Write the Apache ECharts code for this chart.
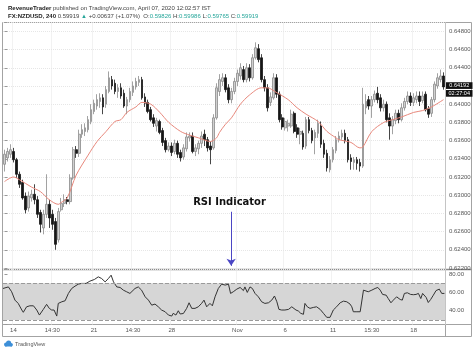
<!DOCTYPE html>
<html>
<head>
<meta charset="utf-8">
<script src="https://cdn.jsdelivr.net/npm/echarts@6/dist/echarts.min.js"></script>
<style>
  html, body { margin: 0; padding: 0; background: #fff; }
  #chart { width: 474px; height: 351px; }
</style>
</head>
<body>
<div id="chart"></div>
<script>
// NZDUSD 4h candles, prices in units of 0.0001 (6345 = 0.6345)
const opens = [
  6334, 6341, 6345, 6348, 6339, 6323, 6314, 6299, 6286, 6297,
  6301, 6295, 6281, 6264, 6279, 6290, 6279, 6271, 6251, 6284,
  6291, 6295, 6293, 6319, 6350, 6346, 6367, 6370, 6372, 6381,
  6392, 6398, 6403, 6407, 6400, 6414, 6427, 6423, 6414, 6418,
  6412, 6398, 6405, 6413, 6419, 6424, 6427, 6408, 6402, 6394,
  6385, 6376, 6381, 6371, 6360, 6350, 6354, 6348, 6357, 6347,
  6342, 6351, 6363, 6365, 6348, 6351, 6357, 6367, 6361, 6354,
  6352, 6385, 6414, 6425, 6429, 6418, 6405, 6414, 6425, 6431,
  6438, 6427, 6440, 6429, 6451, 6461, 6451, 6427, 6418, 6402,
  6407, 6429, 6411, 6385, 6374, 6376, 6376, 6390, 6374, 6367,
  6368, 6354, 6383, 6371, 6363, 6368, 6376, 6357, 6346, 6328,
  6339, 6349, 6361, 6364, 6368, 6361, 6341, 6336, 6339, 6336,
  6332, 6396, 6405, 6398, 6405, 6412, 6407, 6396, 6400, 6385,
  6376, 6382, 6390, 6383, 6396, 6403, 6409, 6402, 6405, 6409,
  6404, 6411, 6395, 6390, 6405, 6420, 6427, 6431
];
const closes = [
  6345, 6348, 6350, 6339, 6323, 6312, 6297, 6284, 6299, 6301,
  6295, 6279, 6268, 6279, 6290, 6275, 6268, 6246, 6282, 6291,
  6295, 6293, 6319, 6350, 6346, 6367, 6372, 6374, 6383, 6394,
  6401, 6405, 6407, 6397, 6416, 6429, 6420, 6414, 6418, 6409,
  6398, 6405, 6414, 6420, 6425, 6427, 6407, 6401, 6392, 6383,
  6379, 6382, 6369, 6358, 6350, 6354, 6347, 6357, 6345, 6341,
  6352, 6364, 6365, 6348, 6352, 6357, 6365, 6361, 6352, 6350,
  6385, 6418, 6427, 6429, 6416, 6405, 6414, 6425, 6434, 6440,
  6427, 6440, 6429, 6451, 6462, 6449, 6427, 6418, 6396, 6408,
  6429, 6411, 6383, 6375, 6381, 6379, 6389, 6370, 6367, 6370,
  6353, 6383, 6371, 6360, 6369, 6379, 6356, 6345, 6330, 6339,
  6350, 6361, 6365, 6368, 6360, 6339, 6337, 6339, 6335, 6332,
  6400, 6403, 6398, 6405, 6411, 6405, 6396, 6400, 6383, 6376,
  6383, 6390, 6383, 6396, 6403, 6409, 6402, 6407, 6409, 6403,
  6409, 6394, 6389, 6405, 6422, 6429, 6431, 6419
];
const highs = [
  6350, 6352, 6356, 6352, 6341, 6326, 6317, 6303, 6304, 6306,
  6312, 6299, 6284, 6284, 6323, 6295, 6284, 6275, 6286, 6297,
  6301, 6298, 6323, 6353, 6354, 6372, 6378, 6379, 6387, 6400,
  6405, 6411, 6412, 6411, 6420, 6436, 6431, 6427, 6422, 6423,
  6416, 6408, 6418, 6425, 6429, 6431, 6430, 6412, 6405, 6397,
  6389, 6385, 6383, 6374, 6363, 6358, 6358, 6361, 6360, 6350,
  6356, 6369, 6369, 6369, 6356, 6360, 6370, 6372, 6364, 6359,
  6389, 6423, 6433, 6434, 6433, 6422, 6418, 6429, 6438, 6445,
  6442, 6445, 6444, 6455, 6468, 6466, 6455, 6431, 6422, 6413,
  6434, 6433, 6414, 6389, 6385, 6383, 6394, 6392, 6378, 6374,
  6371, 6386, 6386, 6374, 6372, 6383, 6381, 6361, 6350, 6343,
  6353, 6365, 6370, 6372, 6372, 6364, 6345, 6342, 6342, 6340,
  6418, 6411, 6409, 6409, 6415, 6419, 6411, 6405, 6403, 6390,
  6387, 6394, 6394, 6401, 6407, 6414, 6413, 6412, 6414, 6414,
  6414, 6414, 6398, 6408, 6425, 6434, 6438, 6435
];
const lows = [
  6326, 6337, 6341, 6336, 6319, 6308, 6295, 6280, 6282, 6293,
  6290, 6275, 6259, 6257, 6275, 6264, 6262, 6240, 6248, 6282,
  6287, 6290, 6290, 6317, 6341, 6342, 6363, 6365, 6369, 6378,
  6389, 6394, 6396, 6389, 6396, 6412, 6416, 6411, 6407, 6406,
  6396, 6389, 6402, 6409, 6416, 6420, 6405, 6397, 6390, 6381,
  6375, 6370, 6367, 6354, 6347, 6348, 6343, 6345, 6341, 6337,
  6339, 6348, 6359, 6346, 6343, 6345, 6352, 6354, 6348, 6334,
  6350, 6383, 6409, 6420, 6413, 6401, 6401, 6411, 6420, 6427,
  6424, 6424, 6425, 6427, 6449, 6446, 6424, 6414, 6392, 6398,
  6405, 6407, 6380, 6372, 6371, 6370, 6374, 6368, 6363, 6356,
  6350, 6351, 6368, 6357, 6345, 6363, 6352, 6341, 6326, 6325,
  6336, 6346, 6358, 6361, 6357, 6336, 6328, 6328, 6328, 6326,
  6330, 6389, 6394, 6385, 6402, 6401, 6392, 6392, 6380, 6361,
  6367, 6378, 6379, 6381, 6393, 6400, 6398, 6398, 6401, 6398,
  6401, 6392, 6385, 6386, 6402, 6417, 6424, 6416
];

// bottom axis labels: bar index -> text
const tickBars = [3, 16, 30, 43, 56, 78, 94, 110, 123, 137];
const tickLabels = ['14', '14:30', '21', '14:30', '28', 'Nov', '6', '11', '15:30', '18'];

// red moving average (bar index, price x 0.0001)
const maBars = [0, 3, 5, 9, 12, 15, 18, 19, 21, 24, 28, 31, 34, 37, 39, 41, 44, 46, 49, 52,
  55, 59, 62, 65, 69, 71, 72, 74, 76, 79, 82, 86, 88, 91, 95, 98, 101, 105, 108, 111,
  112, 116, 119, 120, 123, 127, 130, 133, 137, 140, 143, 147];
const maVals = [6315, 6320, 6317, 6309, 6304, 6295, 6290, 6292, 6297, 6322, 6344, 6359, 6370, 6381, 6383, 6391, 6397, 6402, 6400, 6391,
  6380, 6370, 6366, 6363, 6359, 6363, 6369, 6378, 6385, 6400, 6410, 6418, 6418, 6413, 6405, 6396, 6389, 6381, 6370, 6363,
  6361, 6358, 6352, 6353, 6370, 6380, 6383, 6386, 6391, 6393, 6397, 6405];

// RSI line (bar position, value)
const rsiBars = [
  -0.5, 1.3, 2.4, 3.5, 4.6, 5.8, 6.3, 7.4, 8.5, 9.7,
  10.8, 11.7, 13.0, 14.1, 15.0, 15.8, 16.6, 17.5, 18.0, 19.2,
  20.3, 21.4, 22.5, 23.6, 24.7, 25.8, 27.3, 28.6, 30.1, 31.4,
  32.5, 33.7, 34.8, 35.7, 36.5, 37.6, 38.7, 39.8, 40.9, 42.0,
  42.6, 43.7, 44.8, 45.9, 47.1, 48.2, 49.3, 50.4, 51.5, 52.6,
  53.8, 54.9, 56.0, 56.5, 57.4, 58.2, 58.8, 59.9, 61.0, 61.8,
  62.7, 63.8, 64.9, 66.0, 66.8, 67.7, 68.8, 69.6, 70.5, 71.6,
  72.7, 73.9, 75.0, 75.7, 76.6, 77.8, 78.9, 80.0, 80.5, 81.3,
  82.2, 83.0, 83.9, 85.0, 86.1, 87.2, 88.4, 89.5, 90.4, 91.2,
  91.9, 92.8, 93.9, 95.1, 96.2, 96.7, 97.6, 98.4, 99.2, 100.1,
  100.6, 101.4, 102.3, 103.4, 104.5, 105.7, 106.8, 107.9, 109.0, 110.1,
  111.2, 112.4, 113.5, 114.6, 115.7, 116.3, 116.8, 118.0, 119.1, 119.6,
  120.2, 120.7, 121.8, 123.0, 124.1, 125.0, 125.8, 126.6, 127.8, 128.5,
  129.4, 130.2, 131.3, 132.5, 133.2, 133.9, 134.9, 136.0, 136.9, 137.8,
  138.6, 139.4, 140.0, 141.2, 141.9, 142.7, 143.6, 144.5, 145.6, 146.4,
  147.3
];
const rsiVals = [
  64.3, 66, 60.7, 51.6, 48, 40.8, 38.3, 44.3, 45.4, 45.4,
  40.8, 35.3, 41.5, 47, 42.6, 40.8, 40.8, 34.2, 48, 49.8,
  50.9, 58.9, 64.3, 66.8, 69, 69.8, 69.8, 72.3, 74.1, 77,
  75.2, 71.5, 75.2, 78.8, 71.5, 66, 65.4, 62.5, 60.7, 58.9,
  60.5, 64.3, 66, 62.5, 55.2, 51.6, 46.1, 47.3, 44.3, 40.8,
  38.9, 35.3, 34.2, 37.2, 35.3, 40, 36.5, 37, 42.6, 48.7,
  42.6, 42.6, 44.3, 48, 51.6, 44.3, 48, 45.4, 55.2, 64.3,
  69, 68, 69, 58.9, 60.7, 63.6, 65.4, 62, 66, 60,
  66, 64.3, 58.9, 55.2, 49.8, 48, 48.7, 51.6, 56.1, 49.8,
  41.5, 40.8, 40.8, 41.5, 44.3, 44.8, 40.8, 39.7, 37.2, 36.1,
  48, 44.3, 42.6, 43.6, 44.3, 41.5, 37.2, 32.8, 32.8, 40.8,
  44.3, 48.7, 50.5, 49.8, 47.3, 44.3, 38.9, 38.9, 38.9, 37.8,
  62.5, 63.3, 60.7, 62.5, 64.3, 65.4, 62.5, 57.8, 57, 53.3,
  48.7, 51.6, 55.2, 52.3, 51.6, 58.9, 59.6, 57.8, 57.5, 57.8,
  58.9, 53.3, 58.9, 54.5, 49, 52.3, 57, 62, 63.6, 58.9,
  58.9
];

const lastPrice = 0.64192;
const lastTime = '02:27:04';
const rsiBand = [30, 70];

const N = opens.length;
const categories = opens.map((_, i) => {
  const k = tickBars.indexOf(i);
  return k < 0 ? '' : tickLabels[k];
});
const candles = opens.map((o, i) => [o, closes[i], lows[i], highs[i]].map(v => v / 10000));
const maData = maBars.map((b, i) => [b, maVals[i] / 10000]);
const rsiData = rsiBars.map((b, i) => [b, rsiVals[i]]);

const font = '"Liberation Sans", Arial, sans-serif';
const gridColor = '#e6e6e6';
const frameColor = '#a3a3a3';
const isTick = (i) => categories[i] !== '';

const chart = echarts.init(document.getElementById('chart'));

// frame lines and the TradingView logo
const graphics = [
  { type: 'rect', shape: { x: 2.5, y: 22.5, width: 469, height: 314 }, style: { fill: 'none', stroke: frameColor, lineWidth: 1 } },
  { type: 'line', shape: { x1: 2.5, y1: 269.5, x2: 471.5, y2: 269.5 }, style: { stroke: '#8c8c8c', lineWidth: 1.5 } },
  { type: 'line', shape: { x1: 2.5, y1: 324.5, x2: 471.5, y2: 324.5 }, style: { stroke: frameColor, lineWidth: 1 } },
  { type: 'line', shape: { x1: 445.5, y1: 22.5, x2: 445.5, y2: 336.5 }, style: { stroke: frameColor, lineWidth: 1 } },
  { type: 'circle', shape: { cx: 6, cy: 344.5, r: 2 }, style: { fill: '#3d8fd8' } },
  { type: 'circle', shape: { cx: 8.6, cy: 343, r: 2.6 }, style: { fill: '#3d8fd8' } },
  { type: 'circle', shape: { cx: 11.2, cy: 344.8, r: 1.7 }, style: { fill: '#3d8fd8' } },
  { type: 'rect', shape: { x: 5, y: 344.5, width: 7, height: 2 }, style: { fill: '#3d8fd8' } },
  {
    type: 'text', x: 15, y: 344,
    style: { text: 'TradingView', fontSize: 5.5, fill: '#555', fontFamily: font, verticalAlign: 'middle' }
  }
];

const option = {
  animation: false,
  backgroundColor: '#fff',
  title: [
    {
      left: 3, top: 0,
      text: '{b|RevenueTrader} published on TradingView.com, April 07, 2020 12:02:57 IST',
      textStyle: {
        fontSize: 6, fontWeight: 'normal', color: '#444', fontFamily: font,
        rich: { b: { fontSize: 6, fontWeight: 'bold', color: '#222', fontFamily: font } }
      }
    },
    {
      left: 3, top: 8,
      text: '{b|FX:NZDUSD, 240} 0.59919 {g|\u25b2} +0.00637 (+1.07%)  O:{g|0.59826} H:{g|0.59986} L:{g|0.59765} C:{g|0.59919}',
      textStyle: {
        fontSize: 6, fontWeight: 'normal', color: '#444', fontFamily: font,
        rich: {
          b: { fontSize: 6, fontWeight: 'bold', color: '#222', fontFamily: font },
          g: { fontSize: 6, color: '#26a69a', fontFamily: font }
        }
      }
    }
  ],
  grid: [
    { left: 3, top: 22.5, width: 442, height: 247 },
    { left: 3, top: 269.5, width: 442, height: 55 }
  ],
  xAxis: [
    {
      type: 'category', gridIndex: 0, data: categories, boundaryGap: true,
      axisLine: { show: false }, axisTick: { show: false }, axisLabel: { show: false },
      splitLine: { show: true, interval: isTick, lineStyle: { color: gridColor, type: 'dotted' } }
    },
    { type: 'value', gridIndex: 0, min: -0.5, max: N - 0.5, show: false },
    {
      type: 'category', gridIndex: 1, data: categories, boundaryGap: true,
      axisLine: { show: false }, axisTick: { show: false },
      axisLabel: { interval: 0, margin: 3, fontSize: 6, color: '#555', fontFamily: font },
      splitLine: { show: true, interval: isTick, lineStyle: { color: gridColor, type: 'dotted' } }
    },
    { type: 'value', gridIndex: 1, min: -0.5, max: N - 0.5, show: false }
  ],
  yAxis: [
    {
      type: 'value', gridIndex: 0, position: 'right',
      min: 0.621835, max: 0.648978, splitNumber: 13,
      axisLine: { show: false },
      axisTick: { show: true, length: 3, lineStyle: { color: '#999' } },
      axisLabel: {
        margin: 4, fontSize: 6, color: '#555', fontFamily: font,
        formatter: v => Math.abs(v * 500 - Math.round(v * 500)) < 1e-6 ? v.toFixed(5) : ''
      },
      splitLine: { show: true, lineStyle: { color: gridColor, type: 'dotted' } }
    },
    {
      type: 'value', gridIndex: 1, position: 'right',
      min: 25, max: 85, splitNumber: 3,
      axisLine: { show: false },
      axisTick: { show: true, length: 3, lineStyle: { color: '#999' } },
      axisLabel: {
        margin: 4, fontSize: 6, color: '#555', fontFamily: font,
        formatter: v => v % 20 === 0 ? v.toFixed(2) : ''
      },
      splitLine: { show: false }
    }
  ],
  series: [
    {
      type: 'candlestick', xAxisIndex: 0, yAxisIndex: 0,
      data: candles, barWidth: 2.2,
      itemStyle: {
        color: '#d0d0d0', color0: '#161616',
        borderColor: '#8a8a8a', borderColor0: '#161616', borderWidth: 0.8
      }
    },
    {
      type: 'line', xAxisIndex: 1, yAxisIndex: 0,
      data: maData, smooth: 0.3, showSymbol: false,
      lineStyle: { color: '#e8887c', width: 1 },
      markLine: {
        silent: true, symbol: ['none', 'arrow'], symbolSize: 7,
        label: { show: false },
        lineStyle: { color: '#4b46c4', width: 1, type: 'solid' },
        data: [[{ coord: [75.9, 0.62818] }, { coord: [75.9, 0.62224] }]]
      },
      markPoint: {
        silent: true, symbol: 'circle', symbolSize: 0,
        label: {
          show: true, position: 'inside', formatter: 'RSI Indicator',
          fontSize: 10, fontWeight: 'bold', color: '#111', fontFamily: '"DejaVu Sans", Verdana, sans-serif'
        },
        data: [{ coord: [75.35, 0.62917] }]
      }
    },
    {
      type: 'line', xAxisIndex: 3, yAxisIndex: 1,
      data: rsiData, showSymbol: false,
      lineStyle: { color: '#333', width: 1 },
      markArea: {
        silent: true,
        itemStyle: { color: '#d6d6d6' },
        data: [[{ yAxis: rsiBand[0] }, { yAxis: rsiBand[1] }]]
      },
      markLine: {
        silent: true, symbol: 'none',
        label: { show: false },
        lineStyle: { color: '#9a9a9a', width: 1, type: 'dashed' },
        data: rsiBand.map(v => ({ yAxis: v }))
      }
    }
  ],
  graphic: graphics
};

chart.setOption(option);

// last price / countdown boxes on the price scale, placed through the y axis
const py = chart.convertToPixel({ xAxisIndex: 0, yAxisIndex: 0 }, [N - 1, lastPrice])[1];
const boxX = 446;
const boxW = 26.5;
const priceBox = [
  { text: lastPrice.toFixed(5), y: py - 4.5 },
  { text: lastTime, y: py + 3.3 }
];
priceBox.forEach(b => {
  graphics.push({ type: 'rect', z: 100, shape: { x: boxX, y: b.y, width: boxW, height: 6.7 }, style: { fill: '#111' } });
  graphics.push({
    type: 'text', z: 101, x: boxX + boxW / 2, y: b.y + 3.5,
    style: { text: b.text, fontSize: 5.5, fill: '#fff', fontFamily: font, align: 'center', verticalAlign: 'middle' }
  });
});
chart.setOption({ graphic: graphics });

window.addEventListener('resize', () => chart.resize());
</script>
</body>
</html>
